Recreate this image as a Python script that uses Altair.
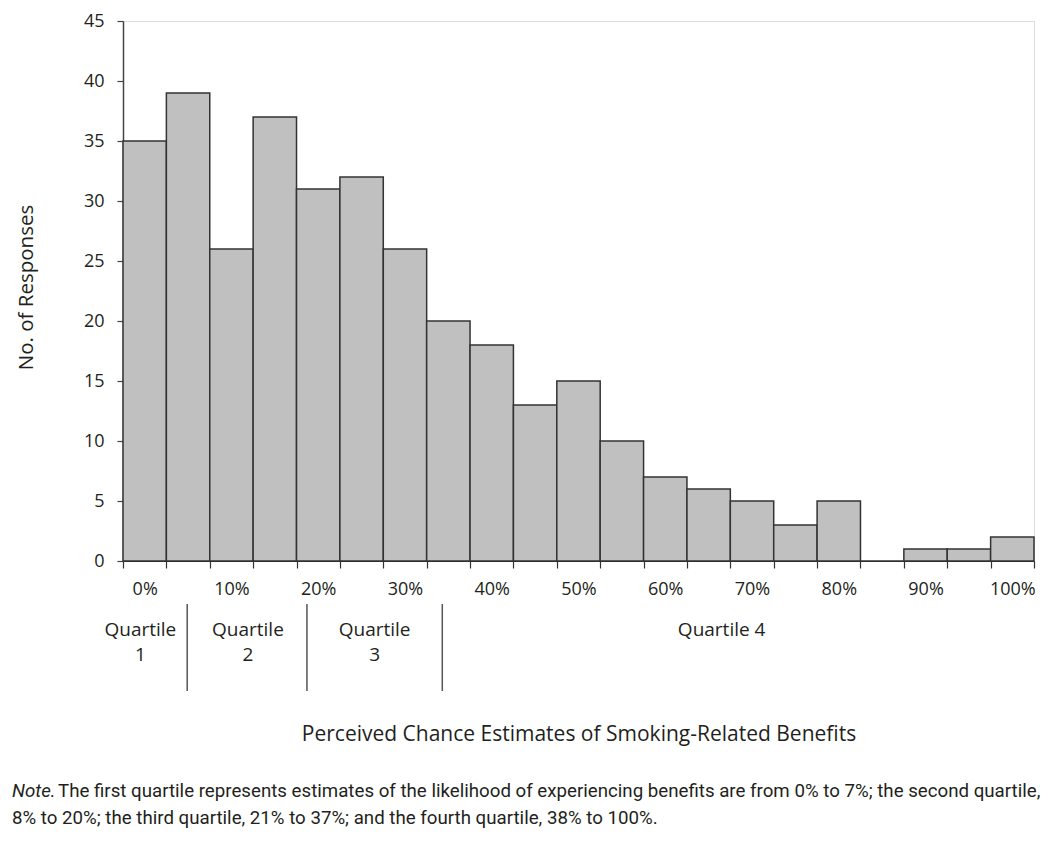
import altair as alt
import pandas as pd

# ---- data ----
pct = [0, 5, 10, 15, 20, 25, 30, 35, 40, 45, 50, 55, 60, 65, 70, 75, 80, 85, 90, 95, 100]
counts = [35, 39, 26, 37, 31, 32, 26, 20, 18, 13, 15, 10, 7, 6, 5, 3, 5, 0, 1, 1, 2]
bin_half = 2.5

q_labels = ["Quartile\n1", "Quartile\n2", "Quartile\n3", "Quartile 4"]
q_centers = [-0.5, 11.9, 26.5, 66.5]
q_bounds = [4.9, 18.7, 34.3]

y_ticks = [0, 5, 10, 15, 20, 25, 30, 35, 40, 45]
x_title = "Perceived Chance Estimates of Smoking-Related Benefits"
y_title = "No. of Responses"
note_lead = "Note."
note_line1 = "The first quartile represents estimates of the likelihood of experiencing benefits are from 0% to 7%; the second quartile,"
note_line2 = "8% to 20%; the third quartile, 21% to 37%; and the fourth quartile, 38% to 100%."

FONT = "Open Sans"
NOTE_FONT = "Roboto"
NOTE_SIZE = 18.7
INK = "#231f20"

df = pd.DataFrame({"pct": pct, "count": counts})
edges = [p - bin_half for p in pct] + [pct[-1] + bin_half]
qdf = pd.DataFrame({"label": q_labels, "x": q_centers})
bdf = pd.DataFrame({"x": q_bounds})

W, H = 911, 540
xscale = alt.Scale(domain=[pct[0] - bin_half, pct[-1] + bin_half], nice=False, zero=False)
yscale = alt.Scale(domain=[0, 45], nice=False)

bars = alt.Chart(df).transform_calculate(
    lo=f"datum.pct - {bin_half}", hi=f"datum.pct + {bin_half}"
).mark_bar(fill="#c0c0c0", stroke="#333333", strokeWidth=1.5).encode(
    x=alt.X("lo:Q", scale=xscale, axis=alt.Axis(
        values=edges,
        labelExpr=f"(datum.value + {bin_half}) % 10 == 0 ? format(datum.value + {bin_half}, 'd') + '%' : ''",
        labelOffset=W / 21 / 2,
        labelFlush=False, labelOverlap=False, labelBound=False,
        tickSize=7, tickColor="#333333", tickWidth=1.2,
        domainColor="#222222", domainWidth=1.2,
        labelFont=FONT, labelFontSize=18, labelColor=INK, labelPadding=12,
        grid=False,
        title=x_title, titleFont=FONT, titleFontSize=21, titleFontWeight="normal",
        titleColor=INK, titleY=179, titleBaseline="alphabetic",
    )),
    x2="hi:Q",
    y=alt.Y("count:Q", scale=yscale, axis=alt.Axis(
        values=y_ticks, grid=False,
        tickSize=6, tickColor="#444444", tickWidth=1.2,
        domainColor="#444444", domainWidth=1.5,
        labelFont=FONT, labelFontSize=18, labelColor=INK, labelPadding=13,
        title=y_title, titleFont=FONT, titleFontSize=20.5, titleFontWeight="normal",
        titleColor=INK, titleX=-91, titleY=266, titleBaseline="alphabetic", titleAngle=-90,
    )),
    y2=alt.datum(0),
)

qlines = alt.Chart(bdf).mark_rule(color="#555555", strokeWidth=1.5).encode(
    x=alt.X("x:Q", scale=xscale),
    y=alt.value(583), y2=alt.value(670),
)

qtext = alt.Chart(qdf).mark_text(
    font=FONT, fontSize=19, color=INK, align="center", baseline="top",
    lineBreak="\n", lineHeight=25,
).encode(
    x=alt.X("x:Q", scale=xscale),
    y=alt.value(600),
    text="label:N",
)

note_a = alt.Chart(pd.DataFrame({"t": [note_lead]})).mark_text(
    font=NOTE_FONT, fontSize=NOTE_SIZE, fontStyle="italic", color=INK, align="left", baseline="alphabetic",
).encode(x=alt.value(-111), y=alt.value(776), text="t:N")

note_b = alt.Chart(pd.DataFrame({"t": [note_line1]})).mark_text(
    font=NOTE_FONT, fontSize=NOTE_SIZE, color=INK, align="left", baseline="alphabetic",
).encode(x=alt.value(-65), y=alt.value(776), text="t:N")

note_c = alt.Chart(pd.DataFrame({"t": [note_line2]})).mark_text(
    font=NOTE_FONT, fontSize=NOTE_SIZE, color=INK, align="left", baseline="alphabetic",
).encode(x=alt.value(-111), y=alt.value(803), text="t:N")

chart = alt.layer(bars, qlines, qtext, note_a, note_b, note_c).properties(
    width=W, height=H,
    autosize=alt.AutoSizeParams(type="none"),
    padding={"left": 115, "top": 13, "right": 8, "bottom": 272},
).configure_view(stroke="transparent", strokeWidth=0).configure(background="white")

chart.save("out.html", embed_options={"renderer": "svg", "actions": False})
